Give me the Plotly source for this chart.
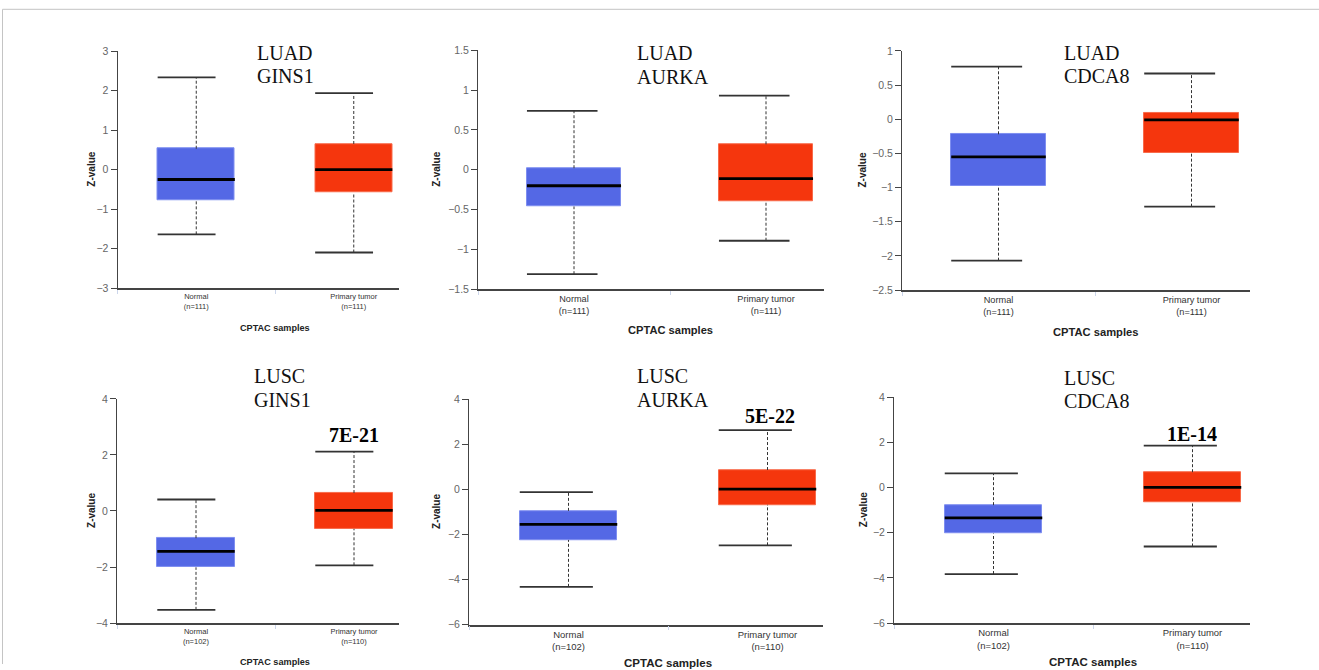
import plotly.graph_objects as go

# ---------------- data ----------------
categories = ["Normal", "Primary tumor"]
cancer_types = ["LUAD", "LUAD", "LUAD", "LUSC", "LUSC", "LUSC"]
genes = ["GINS1", "AURKA", "CDCA8", "GINS1", "AURKA", "CDCA8"]
sample_sizes = [[111, 111], [111, 111], [111, 111], [102, 110], [102, 110], [102, 110]]
p_values = [None, None, None, "7E-21", "5E-22", "1E-14"]

# values per panel: [Normal, Primary tumor]
upper_whisker = [[2.34, 1.94], [0.74, 0.93], [0.77, 0.67], [0.41, 2.12], [-0.12, 2.63], [0.63, 1.86]]
q3_values = [[0.53, 0.65], [0.02, 0.32], [-0.22, 0.09], [-0.97, 0.64], [-0.95, 0.86], [-0.78, 0.68]]
median_values = [[-0.25, 0.0], [-0.20, -0.11], [-0.55, -0.01], [-1.44, 0.02], [-1.55, 0.01], [-1.34, 0.01]]
q1_values = [[-0.77, -0.58], [-0.46, -0.40], [-0.97, -0.50], [-2.01, -0.64], [-2.24, -0.68], [-2.04, -0.66]]
lower_whisker = [[-1.64, -2.10], [-1.31, -0.89], [-2.07, -1.28], [-3.53, -1.94], [-4.32, -2.48], [-3.83, -2.61]]

y_ranges = [[-3, 3], [-1.5, 1.5], [-2.5, 1], [-4, 4], [-6, 4], [-6, 4]]
y_dticks = [1, 0.5, 0.5, 2, 2, 2]

# ---------------- layout geometry (pixels) ----------------
W, H = 1319, 670
panels_px = [
    dict(x0=117.5, x1=399, y0=51, y1=288, band=157.5),
    dict(x0=478, x1=824, y0=50, y1=289.3, band=192),
    dict(x0=902, x1=1250, y0=50.7, y1=290, band=193),
    dict(x0=117, x1=399, y0=399, y1=623.3, band=158),
    dict(x0=469, x1=823, y0=399.3, y1=625, band=199),
    dict(x0=894, x1=1250, y0=397.3, y1=623.3, band=199),
]
title_px = [(255, 51.5, 74.5), (635, 51.5, 75), (1062, 51.5, 74.5),
            (252, 375, 398.5), (635, 375, 398.5), (1062, 376.5, 400)]
pval_px = [None, None, None, (353.5, 433.5), (770, 414.5), (1192, 432.5)]
ztitle_x_px = [92, 437, 862, 92, 437, 863]
xtitle_y_px = [328, 330, 332, 662, 663, 662]

BLUE = "#5468E5"
BLUE_EDGE = "#7E8EF0"
RED = "#F5360D"
RED_EDGE = "#F86A4A"
BOX_W = 0.49
HALF = BOX_W / 2
CAP_R = -HALF + 0.75 * BOX_W
SANS = "Liberation Sans, Arial, Helvetica, sans-serif"
SERIF = "Liberation Serif, Times New Roman, serif"


def px_x(p):
    return p / W


def px_y(p):
    p = (p - 5.7) / 0.983
    return 1 - p / H


fig = go.Figure()
annotations = []
layout_axes = {}

for i in range(6):
    n = i + 1
    xa = "x" if n == 1 else f"x{n}"
    ya = "y" if n == 1 else f"y{n}"
    g = panels_px[i]
    s = g["band"] / 195.0
    xpos = [0, 1]

    # boxes
    fig.add_trace(go.Bar(
        x=xpos,
        y=[q3_values[i][k] - q1_values[i][k] for k in range(2)],
        base=q1_values[i],
        width=BOX_W,
        marker=dict(color=[BLUE, RED], line=dict(color=[BLUE_EDGE, RED_EDGE], width=1)),
        xaxis=xa, yaxis=ya, showlegend=False, hoverinfo="skip",
    ))
    # dashed stems
    sx, sy = [], []
    for k in range(2):
        sx += [xpos[k], xpos[k], None, xpos[k], xpos[k], None]
        sy += [q3_values[i][k], upper_whisker[i][k], None,
               lower_whisker[i][k], q1_values[i][k], None]
    fig.add_trace(go.Scatter(x=sx, y=sy, mode="lines",
                             line=dict(color="#333333", width=1, dash="3px,2px"),
                             xaxis=xa, yaxis=ya, showlegend=False, hoverinfo="skip"))
    # caps
    cx, cy = [], []
    for k in range(2):
        for v in (upper_whisker[i][k], lower_whisker[i][k]):
            cx += [xpos[k] - HALF, xpos[k] + CAP_R, None]
            cy += [v, v, None]
    fig.add_trace(go.Scatter(x=cx, y=cy, mode="lines",
                             line=dict(color="#333333", width=1.8),
                             xaxis=xa, yaxis=ya, showlegend=False, hoverinfo="skip"))
    # medians
    mx, my = [], []
    for k in range(2):
        mx += [xpos[k] - HALF, xpos[k] + HALF, None]
        my += [median_values[i][k], median_values[i][k], None]
    fig.add_trace(go.Scatter(x=mx, y=my, mode="lines",
                             line=dict(color="#000000", width=2.8),
                             xaxis=xa, yaxis=ya, showlegend=False, hoverinfo="skip"))

    xr = [-0.5, -0.5 + (g["x1"] - g["x0"]) / g["band"]]
    ticktext = [f"{categories[k]}<br>(n={sample_sizes[i][k]})" for k in range(2)]
    layout_axes["xaxis" if n == 1 else f"xaxis{n}"] = dict(
        domain=[px_x(g["x0"]), px_x(g["x1"])],
        anchor=ya, range=xr,
        tickmode="array", tickvals=xpos, ticktext=ticktext,
        ticks="", showgrid=False, zeroline=False,
        showline=True, linecolor="#444444", linewidth=1.5,
        tickfont=dict(family=SANS, size=9.3 * s, color="#333333"),
        minor=dict(tickmode="array", tickvals=[-0.5, 0.5], ticks="outside",
                   ticklen=4, tickcolor="#ccd6eb", tickwidth=1),
        fixedrange=True,
    )
    layout_axes["yaxis" if n == 1 else f"yaxis{n}"] = dict(
        domain=[px_y(g["y1"]), px_y(g["y0"])],
        anchor=xa, range=y_ranges[i],
        tick0=y_ranges[i][0], dtick=y_dticks[i],
        ticks="outside", ticklen=6, tickcolor="#444444", tickwidth=1,
        showline=True, linecolor="#444444", linewidth=1,
        showgrid=False, zeroline=False,
        tickfont=dict(family=SANS, size=10.5, color="#666666"),
        fixedrange=True,
    )

    # titles (two left-aligned lines)
    tx, ty1, ty2 = title_px[i]
    for txt, ty in ((cancer_types[i], ty1), (genes[i], ty2)):
        annotations.append(dict(text=txt, xref="paper", yref="paper",
                                x=px_x(tx), y=px_y(ty + 1.5), xanchor="left", yanchor="middle",
                                showarrow=False,
                                font=dict(family=SERIF, size=20, color="#111111")))
    # p value
    if p_values[i] is not None:
        pxp, pyp = pval_px[i]
        annotations.append(dict(text=f"<b>{p_values[i]}</b>", xref="paper", yref="paper",
                                x=px_x(pxp), y=px_y(pyp + 1.5), xanchor="center", yanchor="middle",
                                showarrow=False,
                                font=dict(family=SERIF, size=20, color="#000000")))
    # y title
    annotations.append(dict(text="<b>Z-value</b>", xref="paper", yref="paper",
                            x=px_x(ztitle_x_px[i]), y=px_y((g["y0"] + g["y1"]) / 2),
                            xanchor="center", yanchor="middle", textangle=-90, showarrow=False,
                            font=dict(family=SANS, size=10, color="#222222")))
    # x title
    annotations.append(dict(text="<b>CPTAC samples</b>", xref=xa, yref="paper",
                            x=0.5, y=px_y(xtitle_y_px[i]),
                            xanchor="center", yanchor="middle", showarrow=False,
                            font=dict(family=SANS, size=11.3 * s, color="#222222")))

shapes = [
    dict(type="line", xref="paper", yref="paper", x0=px_x(2.5), x1=1, y0=px_y(9), y1=px_y(9),
         line=dict(color="#c4c4c4", width=1)),
    dict(type="line", xref="paper", yref="paper", x0=px_x(2.5), x1=px_x(2.5), y0=px_y(9), y1=0,
         line=dict(color="#c4c4c4", width=1)),
]

fig.update_layout(
    width=W, height=H,
    margin=dict(l=0, r=0, t=0, b=0),
    paper_bgcolor="white", plot_bgcolor="white",
    showlegend=False, bargap=0,
    annotations=annotations, shapes=shapes,
    **layout_axes,
)

fig.write_html("out.html", config={"displayModeBar": False},
               post_script="document.body.style.margin='0px';document.body.style.overflow='hidden';")
